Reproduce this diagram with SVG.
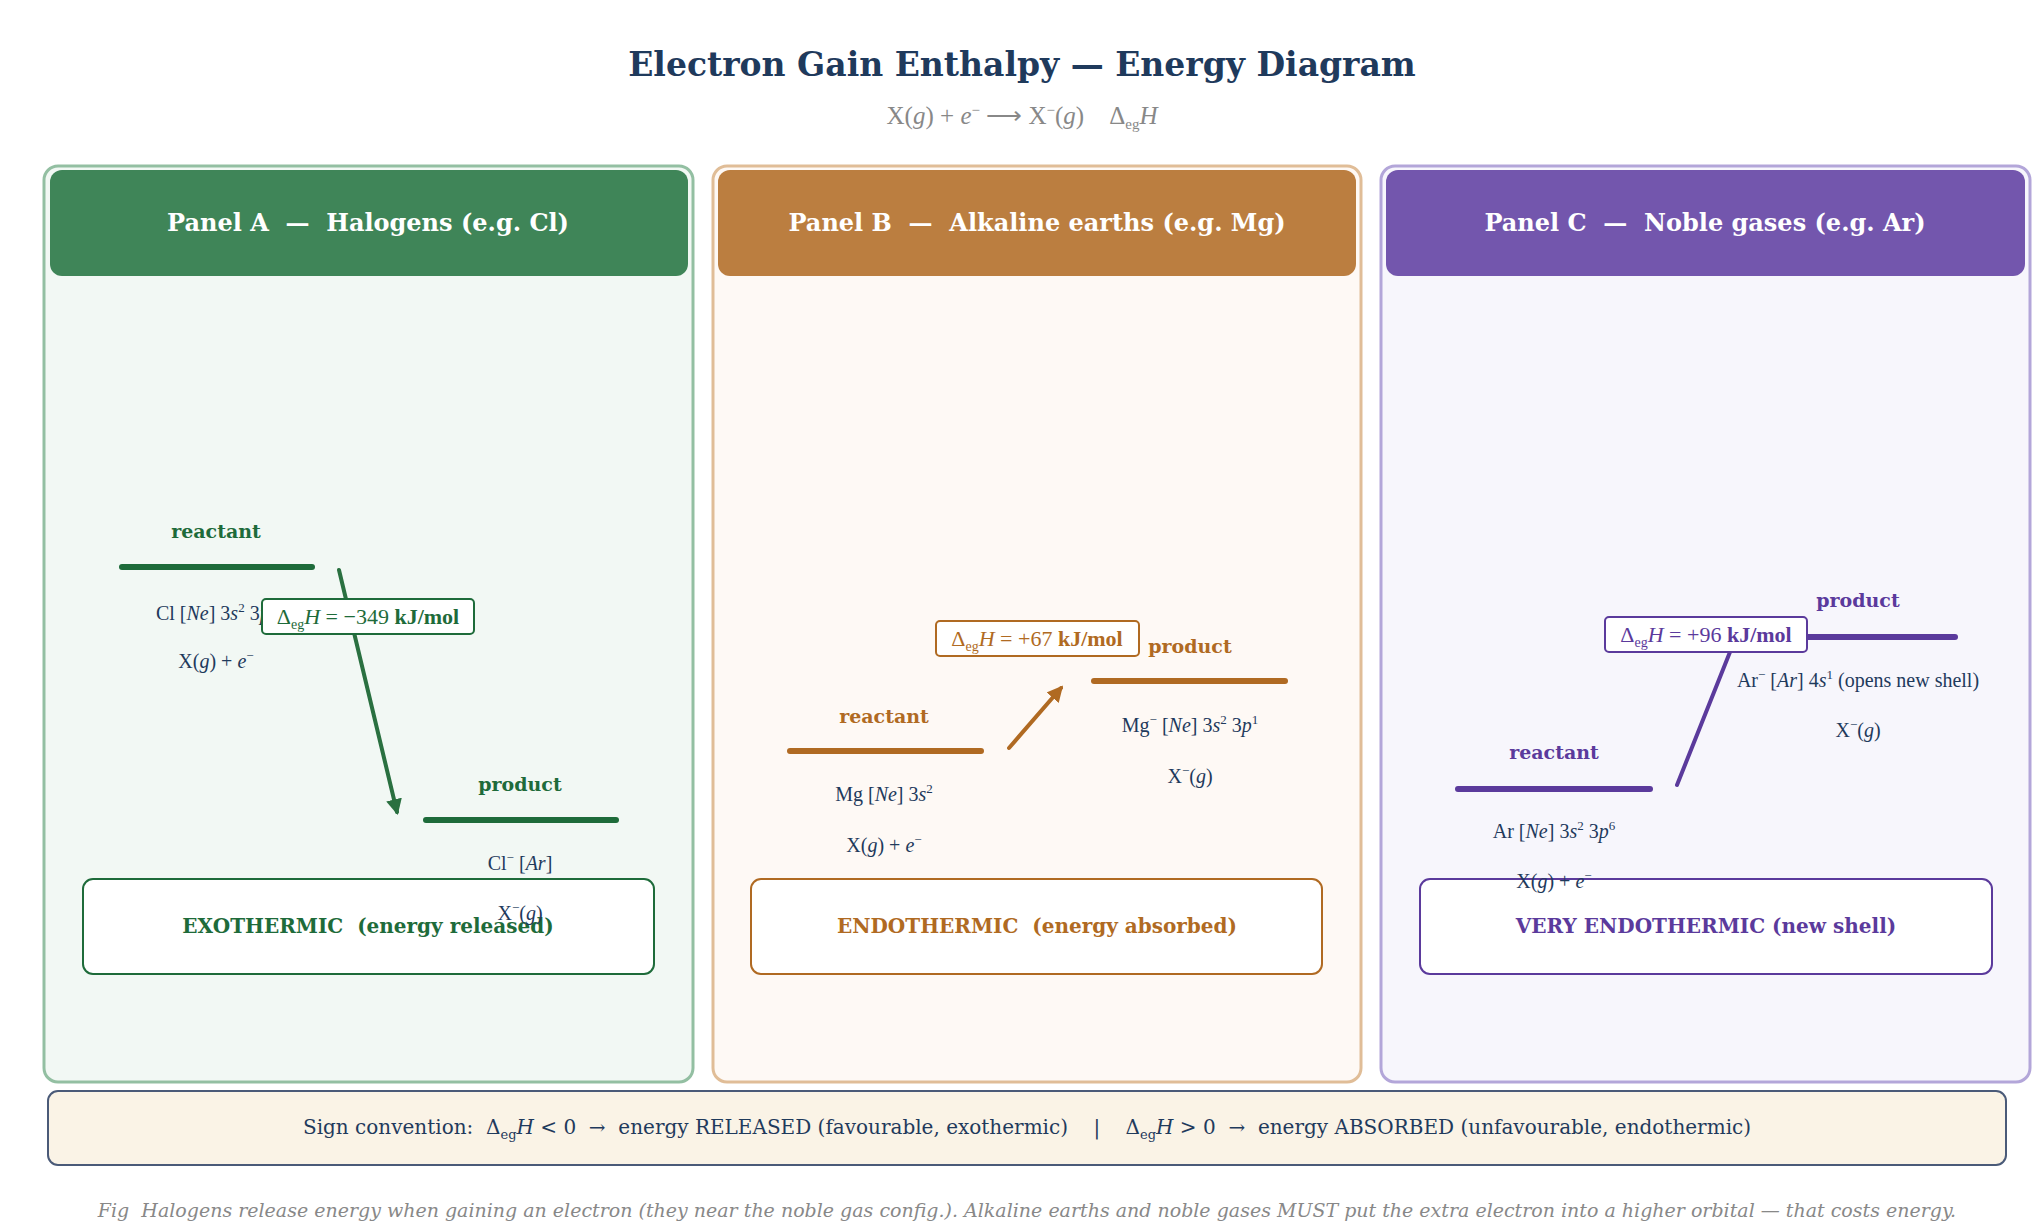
<svg xmlns="http://www.w3.org/2000/svg" width="2044" height="1228" viewBox="0 0 2044 1228">
<style>
text{font-family:"DejaVu Serif","Liberation Serif",serif;white-space:pre}
.t{font-size:33px;font-weight:bold;fill:#1f3a5c;text-anchor:middle}
.sub{font-family:"Liberation Serif",serif;font-size:25px;fill:#888;text-anchor:middle}
.hd{font-size:24px;font-weight:bold;fill:#fff;text-anchor:middle}
.lb{font-size:19px;font-weight:bold;text-anchor:middle}
.m{font-family:"Liberation Serif",serif;font-size:20px;fill:#1f3a5c;text-anchor:middle}
.i{font-style:italic}
.dl{font-family:"Liberation Serif",serif;font-size:22px;text-anchor:middle}
.sm{font-size:20px;font-weight:bold;text-anchor:middle}
.tg{fill:#1e6b3a}.to{fill:#b06a22}.tp{fill:#5b3a9c}
.g{stroke:#1e6b3a}.o{stroke:#b06a22}.p{stroke:#5b3a9c}
.lv{stroke-width:6;stroke-linecap:round;fill:none}
.ar{stroke-width:4;stroke-linecap:round;fill:none}
</style>
<defs>
<marker id="ag" viewBox="0 0 10 10" refX="8" refY="5" markerWidth="4" markerHeight="4" orient="auto"><path d="M0,0L10,5L0,10z" fill="#2a7040"/></marker>
<marker id="ao" viewBox="0 0 10 10" refX="8" refY="5" markerWidth="4" markerHeight="4" orient="auto"><path d="M0,0L10,5L0,10z" fill="#b06a22"/></marker>
</defs>
<rect width="2044" height="1228" fill="#fff"/>
<text class="t" x="1022" y="76">Electron Gain Enthalpy — Energy Diagram</text>
<text class="sub" x="1022" y="124">X(<tspan class="i">g</tspan>) + <tspan class="i">e</tspan><tspan font-size="15" dy="-9">−</tspan><tspan dy="9"> ⟶ X</tspan><tspan font-size="15" dy="-9">−</tspan><tspan dy="9">(<tspan class="i">g</tspan>)    Δ</tspan><tspan font-size="15" dy="5">eg</tspan><tspan dy="-5" class="i">H</tspan></text>

<g id="panelA">
<rect x="44" y="166" width="649" height="916" rx="14" fill="#f2f8f4" stroke="#93bfa2" stroke-width="3"/>
<rect x="50" y="170" width="638" height="106" rx="12" fill="#3f8558"/>
<text class="hd" x="368" y="231">Panel A  —  Halogens (e.g. Cl)</text>
</g>
<g id="panelB">
<rect x="713" y="166" width="648" height="916" rx="14" fill="#fef9f5" stroke="#e0bd97" stroke-width="3"/>
<rect x="718" y="170" width="638" height="106" rx="12" fill="#bb7e40"/>
<text class="hd" x="1037" y="231">Panel B  —  Alkaline earths (e.g. Mg)</text>
</g>
<g id="panelC">
<rect x="1381" y="166" width="649" height="916" rx="14" fill="#f7f6fc" stroke="#b3a6d9" stroke-width="3"/>
<rect x="1386" y="170" width="639" height="106" rx="12" fill="#7356ad"/>
<text class="hd" x="1705" y="231">Panel C  —  Noble gases (e.g. Ar)</text>
</g>

<g id="A-summary">
<rect x="83" y="879" width="571" height="95" rx="10" fill="#fff" stroke="#1e6b3a" stroke-width="2"/>
<text class="sm tg" x="368" y="933">EXOTHERMIC  (energy released)</text>
</g>
<g id="B-summary">
<rect x="751" y="879" width="571" height="95" rx="10" fill="#fff" stroke="#b06a22" stroke-width="2"/>
<text class="sm to" x="1037" y="933">ENDOTHERMIC  (energy absorbed)</text>
</g>
<g id="C-summary">
<rect x="1420" y="879" width="572" height="95" rx="10" fill="#fff" stroke="#5b3a9c" stroke-width="2"/>
<text class="sm tp" x="1706" y="933">VERY ENDOTHERMIC (new shell)</text>
</g>

<g id="connectors">
<line class="ar" stroke="#2a7040" x1="339" y1="570" x2="397" y2="812" marker-end="url(#ag)"/>
<line class="ar o" x1="1009" y1="748" x2="1061" y2="688" marker-end="url(#ao)"/>
<line class="ar p" x1="1677" y1="785" x2="1730" y2="652"/>
</g>

<g id="A-reactant">
<text class="lb tg" x="216" y="538">reactant</text>
<line class="lv g" x1="122" y1="567" x2="312" y2="567"/>
<text class="m" x="216" y="620">Cl [<tspan class="i">Ne</tspan>] 3<tspan class="i">s</tspan><tspan font-size="13" dy="-8">2</tspan><tspan dy="8"> 3</tspan><tspan class="i">p</tspan><tspan font-size="13" dy="-8">5</tspan></text>
<text class="m" x="216" y="668">X(<tspan class="i">g</tspan>) + <tspan class="i">e</tspan><tspan font-size="13" dy="-8">−</tspan></text>
</g>
<g id="A-label">
<rect x="262" y="599" width="212" height="35" rx="4" fill="#fff" stroke="#1e6b3a" stroke-width="2"/>
<text class="dl tg" x="368" y="624">Δ<tspan font-size="14" dy="5">eg</tspan><tspan dy="-5" class="i">H</tspan> = −349 <tspan font-weight="bold">kJ/mol</tspan></text>
</g>
<g id="A-product">
<text class="lb tg" x="520" y="791">product</text>
<line class="lv g" x1="426" y1="820" x2="616" y2="820"/>
<text class="m" x="520" y="870">Cl<tspan font-size="13" dy="-8">−</tspan><tspan dy="8"> [</tspan><tspan class="i">Ar</tspan>]</text>
<text class="m" x="520" y="920">X<tspan font-size="13" dy="-8">−</tspan><tspan dy="8">(</tspan><tspan class="i">g</tspan>)</text>
</g>

<g id="B-reactant">
<text class="lb to" x="884" y="723">reactant</text>
<line class="lv o" x1="790" y1="751" x2="981" y2="751"/>
<text class="m" x="884" y="801">Mg [<tspan class="i">Ne</tspan>] 3<tspan class="i">s</tspan><tspan font-size="13" dy="-8">2</tspan></text>
<text class="m" x="884" y="852">X(<tspan class="i">g</tspan>) + <tspan class="i">e</tspan><tspan font-size="13" dy="-8">−</tspan></text>
</g>
<g id="B-label">
<rect x="936" y="621" width="203" height="35" rx="4" fill="#fff" stroke="#b06a22" stroke-width="2"/>
<text class="dl to" x="1037" y="646">Δ<tspan font-size="14" dy="5">eg</tspan><tspan dy="-5" class="i">H</tspan> = +67 <tspan font-weight="bold">kJ/mol</tspan></text>
</g>
<g id="B-product">
<text class="lb to" x="1190" y="653">product</text>
<line class="lv o" x1="1094" y1="681" x2="1285" y2="681"/>
<text class="m" x="1190" y="732">Mg<tspan font-size="13" dy="-8">−</tspan><tspan dy="8"> [</tspan><tspan class="i">Ne</tspan>] 3<tspan class="i">s</tspan><tspan font-size="13" dy="-8">2</tspan><tspan dy="8"> 3</tspan><tspan class="i">p</tspan><tspan font-size="13" dy="-8">1</tspan></text>
<text class="m" x="1190" y="783">X<tspan font-size="13" dy="-8">−</tspan><tspan dy="8">(</tspan><tspan class="i">g</tspan>)</text>
</g>

<g id="C-reactant">
<text class="lb tp" x="1554" y="759">reactant</text>
<line class="lv p" x1="1458" y1="789" x2="1650" y2="789"/>
<text class="m" x="1554" y="838">Ar [<tspan class="i">Ne</tspan>] 3<tspan class="i">s</tspan><tspan font-size="13" dy="-8">2</tspan><tspan dy="8"> 3</tspan><tspan class="i">p</tspan><tspan font-size="13" dy="-8">6</tspan></text>
<text class="m" x="1554" y="888">X(<tspan class="i">g</tspan>) + <tspan class="i">e</tspan><tspan font-size="13" dy="-8">−</tspan></text>
</g>
<g id="C-product">
<text class="lb tp" x="1858" y="607">product</text>
<line class="lv p" x1="1762" y1="637" x2="1955" y2="637"/>
<text class="m" x="1858" y="687">Ar<tspan font-size="13" dy="-8">−</tspan><tspan dy="8"> [</tspan><tspan class="i">Ar</tspan>] 4<tspan class="i">s</tspan><tspan font-size="13" dy="-8">1</tspan><tspan dy="8"> (opens new shell)</tspan></text>
<text class="m" x="1858" y="737">X<tspan font-size="13" dy="-8">−</tspan><tspan dy="8">(</tspan><tspan class="i">g</tspan>)</text>
</g>
<g id="C-label">
<rect x="1605" y="617" width="202" height="35" rx="4" fill="#fff" stroke="#5b3a9c" stroke-width="2"/>
<text class="dl tp" x="1706" y="642">Δ<tspan font-size="14" dy="5">eg</tspan><tspan dy="-5" class="i">H</tspan> = +96 <tspan font-weight="bold">kJ/mol</tspan></text>
</g>

<g id="convention">
<rect x="48" y="1091" width="1958" height="74" rx="10" fill="#faf3e6" stroke="#4a5a78" stroke-width="2"/>
<text x="1027" y="1134" font-size="20" fill="#1f3a5c" text-anchor="middle">Sign convention:  Δ<tspan font-size="13" dy="5">eg</tspan><tspan dy="-5" font-style="italic">H</tspan> &lt; 0  →  energy RELEASED (favourable, exothermic)    |    Δ<tspan font-size="13" dy="5">eg</tspan><tspan dy="-5" font-style="italic">H</tspan> &gt; 0  →  energy ABSORBED (unfavourable, endothermic)</text>
</g>
<text x="1027" y="1217" font-size="19" font-style="italic" fill="#888" text-anchor="middle">Fig  Halogens release energy when gaining an electron (they near the noble gas config.). Alkaline earths and noble gases MUST put the extra electron into a higher orbital — that costs energy.</text>
</svg>
